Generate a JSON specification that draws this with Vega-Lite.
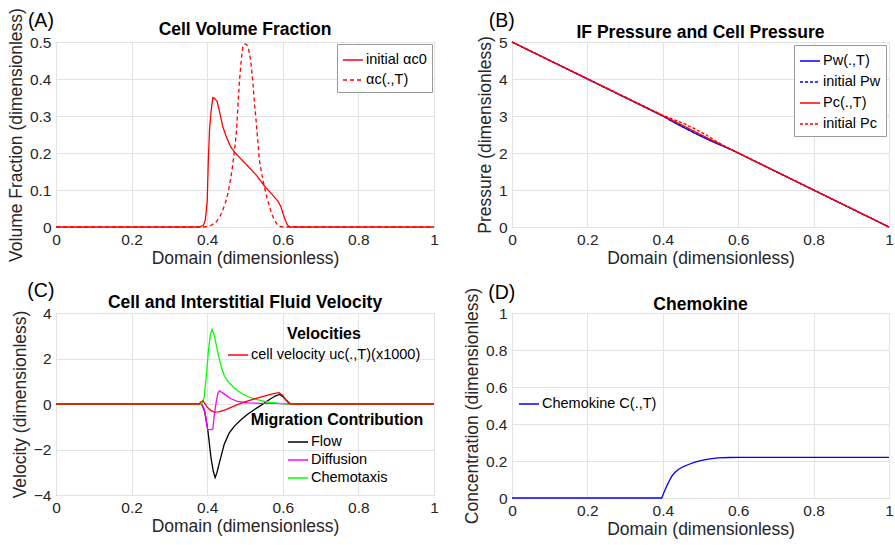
{
  "$schema": "https://vega.github.io/schema/vega-lite/v6.json",
  "background": "white",
  "padding": {"left": 6, "top": 7, "right": 0, "bottom": 0},
  "config": {
    "font": "Liberation Sans",
    "view": {"stroke": "#9a9a9a", "strokeWidth": 1},
    "axis": {
      "domain": false, "ticks": false, "grid": true, "gridColor": "#e3e3e3",
      "labelColor": "#262626", "titleColor": "#262626", "labelFontSize": 15.5, "titleFontSize": 17.5,
      "titleFontWeight": "normal", "labelFlush": false, "labelOverlap": false, "labelPadding": 5
    },
    "axisX": {"titlePadding": 2},
    "axisY": {"titlePadding": 4},
    "title": {"fontSize": 17.5, "fontWeight": "bold", "color": "#000000", "offset": -31, "frame": "group"},
    "legend": {"labelFontSize": 14.5, "labelColor": "#000000", "symbolType": "stroke", "symbolSize": 400, "symbolStrokeWidth": 1.5, "labelOffset": 2}
  },
  "resolve": {
    "scale": {"x": "independent", "y": "independent", "color": "independent", "strokeDash": "independent", "stroke": "independent"},
    "axis": {"x": "independent", "y": "independent"},
    "legend": {"color": "independent", "strokeDash": "independent", "stroke": "independent"}
  },
  "datasets": {
    "a": [
      {"x": 0, "y": 0, "s": "initial αc0"}, {"x": 0.38, "y": 0, "s": "initial αc0"}, {"x": 0.39, "y": 0.005, "s": "initial αc0"}, {"x": 0.395, "y": 0.018, "s": "initial αc0"}, {"x": 0.4, "y": 0.07, "s": "initial αc0"}, {"x": 0.403, "y": 0.18, "s": "initial αc0"}, {"x": 0.406, "y": 0.26, "s": "initial αc0"}, {"x": 0.41, "y": 0.31, "s": "initial αc0"}, {"x": 0.415, "y": 0.35, "s": "initial αc0"}, {"x": 0.42, "y": 0.347, "s": "initial αc0"}, {"x": 0.426, "y": 0.34, "s": "initial αc0"}, {"x": 0.433, "y": 0.31, "s": "initial αc0"}, {"x": 0.441, "y": 0.272, "s": "initial αc0"}, {"x": 0.45, "y": 0.245, "s": "initial αc0"}, {"x": 0.463, "y": 0.215, "s": "initial αc0"}, {"x": 0.472, "y": 0.203, "s": "initial αc0"}, {"x": 0.49, "y": 0.183, "s": "initial αc0"}, {"x": 0.51, "y": 0.162, "s": "initial αc0"}, {"x": 0.53, "y": 0.14, "s": "initial αc0"}, {"x": 0.552, "y": 0.11, "s": "initial αc0"}, {"x": 0.57, "y": 0.09, "s": "initial αc0"}, {"x": 0.587, "y": 0.07, "s": "initial αc0"}, {"x": 0.595, "y": 0.055, "s": "initial αc0"}, {"x": 0.6, "y": 0.038, "s": "initial αc0"}, {"x": 0.606, "y": 0.02, "s": "initial αc0"}, {"x": 0.612, "y": 0.006, "s": "initial αc0"}, {"x": 0.618, "y": 0, "s": "initial αc0"}, {"x": 1, "y": 0, "s": "initial αc0"},
      {"x": 0, "y": 0, "s": "αc(.,T)"}, {"x": 0.39, "y": 0, "s": "αc(.,T)"}, {"x": 0.4, "y": 0.001, "s": "αc(.,T)"}, {"x": 0.41, "y": 0.004, "s": "αc(.,T)"}, {"x": 0.424, "y": 0.014, "s": "αc(.,T)"}, {"x": 0.433, "y": 0.027, "s": "αc(.,T)"}, {"x": 0.441, "y": 0.045, "s": "αc(.,T)"}, {"x": 0.448, "y": 0.065, "s": "αc(.,T)"}, {"x": 0.455, "y": 0.091, "s": "αc(.,T)"}, {"x": 0.462, "y": 0.13, "s": "αc(.,T)"}, {"x": 0.468, "y": 0.172, "s": "αc(.,T)"}, {"x": 0.473, "y": 0.215, "s": "αc(.,T)"}, {"x": 0.477, "y": 0.254, "s": "αc(.,T)"}, {"x": 0.481, "y": 0.32, "s": "αc(.,T)"}, {"x": 0.485, "y": 0.39, "s": "αc(.,T)"}, {"x": 0.49, "y": 0.45, "s": "αc(.,T)"}, {"x": 0.494, "y": 0.485, "s": "αc(.,T)"}, {"x": 0.5, "y": 0.495, "s": "αc(.,T)"}, {"x": 0.505, "y": 0.492, "s": "αc(.,T)"}, {"x": 0.51, "y": 0.478, "s": "αc(.,T)"}, {"x": 0.515, "y": 0.45, "s": "αc(.,T)"}, {"x": 0.521, "y": 0.39, "s": "αc(.,T)"}, {"x": 0.525, "y": 0.335, "s": "αc(.,T)"}, {"x": 0.53, "y": 0.281, "s": "αc(.,T)"}, {"x": 0.534, "y": 0.23, "s": "αc(.,T)"}, {"x": 0.538, "y": 0.181, "s": "αc(.,T)"}, {"x": 0.545, "y": 0.14, "s": "αc(.,T)"}, {"x": 0.552, "y": 0.105, "s": "αc(.,T)"}, {"x": 0.558, "y": 0.08, "s": "αc(.,T)"}, {"x": 0.565, "y": 0.054, "s": "αc(.,T)"}, {"x": 0.572, "y": 0.033, "s": "αc(.,T)"}, {"x": 0.578, "y": 0.018, "s": "αc(.,T)"}, {"x": 0.585, "y": 0.007, "s": "αc(.,T)"}, {"x": 0.591, "y": 0.002, "s": "αc(.,T)"}, {"x": 0.6, "y": 0, "s": "αc(.,T)"}, {"x": 1, "y": 0, "s": "αc(.,T)"}
    ],
    "b": [
      {"x": 0, "y": 5, "s": "Pw(.,T)"}, {"x": 0.4, "y": 3.0, "s": "Pw(.,T)"}, {"x": 0.42, "y": 2.88, "s": "Pw(.,T)"}, {"x": 0.45, "y": 2.72, "s": "Pw(.,T)"}, {"x": 0.48, "y": 2.56, "s": "Pw(.,T)"}, {"x": 0.51, "y": 2.41, "s": "Pw(.,T)"}, {"x": 0.54, "y": 2.27, "s": "Pw(.,T)"}, {"x": 0.57, "y": 2.14, "s": "Pw(.,T)"}, {"x": 0.59, "y": 2.05, "s": "Pw(.,T)"}, {"x": 1, "y": 0, "s": "Pw(.,T)"},
      {"x": 0, "y": 5, "s": "initial Pw"}, {"x": 0.4, "y": 3.0, "s": "initial Pw"}, {"x": 0.43, "y": 2.83, "s": "initial Pw"}, {"x": 0.46, "y": 2.67, "s": "initial Pw"}, {"x": 0.5, "y": 2.47, "s": "initial Pw"}, {"x": 0.54, "y": 2.28, "s": "initial Pw"}, {"x": 0.58, "y": 2.1, "s": "initial Pw"}, {"x": 0.6, "y": 2.0, "s": "initial Pw"}, {"x": 1, "y": 0, "s": "initial Pw"},
      {"x": 0, "y": 5, "s": "Pc(.,T)"}, {"x": 0.4, "y": 3.01, "s": "Pc(.,T)"}, {"x": 0.45, "y": 2.76, "s": "Pc(.,T)"}, {"x": 0.5, "y": 2.5, "s": "Pc(.,T)"}, {"x": 0.55, "y": 2.25, "s": "Pc(.,T)"}, {"x": 0.6, "y": 2.0, "s": "Pc(.,T)"}, {"x": 1, "y": 0, "s": "Pc(.,T)"},
      {"x": 0, "y": 5, "s": "initial Pc"}, {"x": 0.4, "y": 3.02, "s": "initial Pc"}, {"x": 0.42, "y": 2.94, "s": "initial Pc"}, {"x": 0.44, "y": 2.86, "s": "initial Pc"}, {"x": 0.46, "y": 2.78, "s": "initial Pc"}, {"x": 0.47, "y": 2.72, "s": "initial Pc"}, {"x": 0.48, "y": 2.68, "s": "initial Pc"}, {"x": 0.5, "y": 2.57, "s": "initial Pc"}, {"x": 0.52, "y": 2.46, "s": "initial Pc"}, {"x": 0.54, "y": 2.33, "s": "initial Pc"}, {"x": 0.56, "y": 2.21, "s": "initial Pc"}, {"x": 0.6, "y": 2.0, "s": "initial Pc"}, {"x": 1, "y": 0, "s": "initial Pc"}
    ],
    "cmig": [
      {"x": 0, "y": 0, "s": "Flow"}, {"x": 0.385, "y": 0, "s": "Flow"}, {"x": 0.393, "y": -0.31, "s": "Flow"}, {"x": 0.402, "y": -1.19, "s": "Flow"}, {"x": 0.41, "y": -2.36, "s": "Flow"}, {"x": 0.416, "y": -2.95, "s": "Flow"}, {"x": 0.421, "y": -3.24, "s": "Flow"}, {"x": 0.426, "y": -3.0, "s": "Flow"}, {"x": 0.432, "y": -2.6, "s": "Flow"}, {"x": 0.445, "y": -1.77, "s": "Flow"}, {"x": 0.458, "y": -1.28, "s": "Flow"}, {"x": 0.472, "y": -0.97, "s": "Flow"}, {"x": 0.49, "y": -0.68, "s": "Flow"}, {"x": 0.507, "y": -0.45, "s": "Flow"}, {"x": 0.525, "y": -0.24, "s": "Flow"}, {"x": 0.542, "y": -0.06, "s": "Flow"}, {"x": 0.556, "y": 0.1, "s": "Flow"}, {"x": 0.569, "y": 0.24, "s": "Flow"}, {"x": 0.58, "y": 0.35, "s": "Flow"}, {"x": 0.591, "y": 0.42, "s": "Flow"}, {"x": 0.6, "y": 0.33, "s": "Flow"}, {"x": 0.61, "y": 0.15, "s": "Flow"}, {"x": 0.618, "y": 0.03, "s": "Flow"}, {"x": 0.625, "y": 0, "s": "Flow"}, {"x": 1, "y": 0, "s": "Flow"},
      {"x": 0, "y": 0, "s": "Diffusion"}, {"x": 0.385, "y": 0, "s": "Diffusion"}, {"x": 0.391, "y": -0.17, "s": "Diffusion"}, {"x": 0.397, "y": -0.61, "s": "Diffusion"}, {"x": 0.401, "y": -1.12, "s": "Diffusion"}, {"x": 0.41, "y": -1.13, "s": "Diffusion"}, {"x": 0.415, "y": -1.1, "s": "Diffusion"}, {"x": 0.419, "y": -0.45, "s": "Diffusion"}, {"x": 0.424, "y": 0.1, "s": "Diffusion"}, {"x": 0.428, "y": 0.45, "s": "Diffusion"}, {"x": 0.432, "y": 0.58, "s": "Diffusion"}, {"x": 0.44, "y": 0.5, "s": "Diffusion"}, {"x": 0.45, "y": 0.38, "s": "Diffusion"}, {"x": 0.463, "y": 0.23, "s": "Diffusion"}, {"x": 0.48, "y": 0.12, "s": "Diffusion"}, {"x": 0.507, "y": 0.05, "s": "Diffusion"}, {"x": 0.54, "y": 0.03, "s": "Diffusion"}, {"x": 0.58, "y": 0.03, "s": "Diffusion"}, {"x": 0.61, "y": 0.01, "s": "Diffusion"}, {"x": 0.62, "y": 0, "s": "Diffusion"}, {"x": 1, "y": 0, "s": "Diffusion"},
      {"x": 0, "y": 0, "s": "Chemotaxis"}, {"x": 0.385, "y": 0, "s": "Chemotaxis"}, {"x": 0.392, "y": 0.3, "s": "Chemotaxis"}, {"x": 0.397, "y": 1.1, "s": "Chemotaxis"}, {"x": 0.403, "y": 2.3, "s": "Chemotaxis"}, {"x": 0.408, "y": 3.0, "s": "Chemotaxis"}, {"x": 0.413, "y": 3.28, "s": "Chemotaxis"}, {"x": 0.418, "y": 3.05, "s": "Chemotaxis"}, {"x": 0.424, "y": 2.6, "s": "Chemotaxis"}, {"x": 0.43, "y": 2.1, "s": "Chemotaxis"}, {"x": 0.437, "y": 1.65, "s": "Chemotaxis"}, {"x": 0.445, "y": 1.25, "s": "Chemotaxis"}, {"x": 0.455, "y": 0.98, "s": "Chemotaxis"}, {"x": 0.472, "y": 0.7, "s": "Chemotaxis"}, {"x": 0.49, "y": 0.47, "s": "Chemotaxis"}, {"x": 0.507, "y": 0.33, "s": "Chemotaxis"}, {"x": 0.53, "y": 0.2, "s": "Chemotaxis"}, {"x": 0.56, "y": 0.08, "s": "Chemotaxis"}, {"x": 0.59, "y": 0.03, "s": "Chemotaxis"}, {"x": 0.62, "y": 0, "s": "Chemotaxis"}, {"x": 1, "y": 0, "s": "Chemotaxis"}
    ],
    "cvel": [
      {"x": 0, "y": 0, "s": "cell velocity uc(.,T)(x1000)"}, {"x": 0.378, "y": 0, "s": "cell velocity uc(.,T)(x1000)"}, {"x": 0.384, "y": 0.1, "s": "cell velocity uc(.,T)(x1000)"}, {"x": 0.389, "y": 0.14, "s": "cell velocity uc(.,T)(x1000)"}, {"x": 0.394, "y": 0.02, "s": "cell velocity uc(.,T)(x1000)"}, {"x": 0.4, "y": -0.14, "s": "cell velocity uc(.,T)(x1000)"}, {"x": 0.41, "y": -0.29, "s": "cell velocity uc(.,T)(x1000)"}, {"x": 0.419, "y": -0.36, "s": "cell velocity uc(.,T)(x1000)"}, {"x": 0.43, "y": -0.35, "s": "cell velocity uc(.,T)(x1000)"}, {"x": 0.446, "y": -0.27, "s": "cell velocity uc(.,T)(x1000)"}, {"x": 0.463, "y": -0.15, "s": "cell velocity uc(.,T)(x1000)"}, {"x": 0.48, "y": -0.03, "s": "cell velocity uc(.,T)(x1000)"}, {"x": 0.5, "y": 0.09, "s": "cell velocity uc(.,T)(x1000)"}, {"x": 0.525, "y": 0.22, "s": "cell velocity uc(.,T)(x1000)"}, {"x": 0.551, "y": 0.35, "s": "cell velocity uc(.,T)(x1000)"}, {"x": 0.575, "y": 0.46, "s": "cell velocity uc(.,T)(x1000)"}, {"x": 0.59, "y": 0.5, "s": "cell velocity uc(.,T)(x1000)"}, {"x": 0.6, "y": 0.38, "s": "cell velocity uc(.,T)(x1000)"}, {"x": 0.609, "y": 0.16, "s": "cell velocity uc(.,T)(x1000)"}, {"x": 0.617, "y": 0.02, "s": "cell velocity uc(.,T)(x1000)"}, {"x": 0.622, "y": 0, "s": "cell velocity uc(.,T)(x1000)"}, {"x": 1, "y": 0, "s": "cell velocity uc(.,T)(x1000)"}
    ],
    "d": [
      {"x": 0, "y": 0, "s": "Chemokine C(.,T)"}, {"x": 0.397, "y": 0, "s": "Chemokine C(.,T)"}, {"x": 0.403, "y": 0.03, "s": "Chemokine C(.,T)"}, {"x": 0.41, "y": 0.063, "s": "Chemokine C(.,T)"}, {"x": 0.417, "y": 0.092, "s": "Chemokine C(.,T)"}, {"x": 0.424, "y": 0.118, "s": "Chemokine C(.,T)"}, {"x": 0.432, "y": 0.138, "s": "Chemokine C(.,T)"}, {"x": 0.441, "y": 0.154, "s": "Chemokine C(.,T)"}, {"x": 0.455, "y": 0.17, "s": "Chemokine C(.,T)"}, {"x": 0.468, "y": 0.181, "s": "Chemokine C(.,T)"}, {"x": 0.485, "y": 0.194, "s": "Chemokine C(.,T)"}, {"x": 0.503, "y": 0.204, "s": "Chemokine C(.,T)"}, {"x": 0.525, "y": 0.212, "s": "Chemokine C(.,T)"}, {"x": 0.547, "y": 0.217, "s": "Chemokine C(.,T)"}, {"x": 0.575, "y": 0.219, "s": "Chemokine C(.,T)"}, {"x": 0.6, "y": 0.22, "s": "Chemokine C(.,T)"}, {"x": 1, "y": 0.22, "s": "Chemokine C(.,T)"}
    ],
    "labels": [
      {"p": "A", "t": "(A)"}, {"p": "B", "t": "(B)"}, {"p": "C", "t": "(C)"}, {"p": "D", "t": "(D)"}
    ]
  },
  "columns": 2,
  "spacing": {"column": 23, "row": 12},
  "concat": [
    {
      "width": 378, "height": 185,
      "title": "Cell Volume Fraction",
      "layer": [
        {
          "data": {"name": "a"},
          "mark": {"type": "line", "strokeWidth": 1.3},
          "encoding": {
            "x": {"field": "x", "type": "quantitative", "scale": {"domain": [0, 1]}, "axis": {"title": "Domain (dimensionless)", "values": [0, 0.2, 0.4, 0.6, 0.8, 1], "format": ".1~f"}},
            "y": {"field": "y", "type": "quantitative", "scale": {"domain": [0, 0.5]}, "axis": {"title": "Volume Fraction (dimensionless)", "values": [0, 0.1, 0.2, 0.3, 0.4, 0.5], "format": ".1~f"}},
            "color": {"field": "s", "type": "nominal", "scale": {"domain": ["initial αc0", "αc(.,T)"], "range": ["#ff0000", "#ff0000"]}, "legend": {"title": null, "orient": "top-right", "offset": 2, "padding": 5, "strokeColor": "#9a9a9a", "fillColor": "white", "rowPadding": 2}},
            "strokeDash": {"field": "s", "type": "nominal", "scale": {"domain": ["initial αc0", "αc(.,T)"], "range": [[1, 0], [4, 3]]}, "legend": {"title": null, "orient": "top-right", "offset": 2, "padding": 5, "strokeColor": "#9a9a9a", "fillColor": "white", "rowPadding": 2}}
          }
        },
        {
          "data": {"name": "labels"},
          "transform": [{"filter": "datum.p == 'A'"}],
          "mark": {"type": "text", "fontSize": 19.5, "color": "#000000"},
          "encoding": {
            "x": {"datum": -0.04, "type": "quantitative", "axis": {"title": "Domain (dimensionless)", "values": [0, 0.2, 0.4, 0.6, 0.8, 1], "format": ".1~f"}},
            "y": {"datum": 0.557, "type": "quantitative", "axis": {"title": "Volume Fraction (dimensionless)", "values": [0, 0.1, 0.2, 0.3, 0.4, 0.5], "format": ".1~f"}},
            "text": {"field": "t"}
          }
        }
      ]
    },
    {
      "width": 377, "height": 185,
      "title": "IF Pressure and Cell Pressure",
      "layer": [
        {
          "data": {"name": "b"},
          "mark": {"type": "line", "strokeWidth": 1.3},
          "encoding": {
            "x": {"field": "x", "type": "quantitative", "scale": {"domain": [0, 1]}, "axis": {"title": "Domain (dimensionless)", "values": [0, 0.2, 0.4, 0.6, 0.8, 1], "format": ".1~f"}},
            "y": {"field": "y", "type": "quantitative", "scale": {"domain": [0, 5]}, "axis": {"title": "Pressure (dimensionless)", "values": [0, 1, 2, 3, 4, 5], "format": "d"}},
            "color": {"field": "s", "type": "nominal", "scale": {"domain": ["Pw(.,T)", "initial Pw", "Pc(.,T)", "initial Pc"], "range": ["#0000ff", "#0000ff", "#ff0000", "#ff0000"]}, "legend": {"title": null, "orient": "top-right", "offset": 3, "padding": 5, "strokeColor": "#9a9a9a", "fillColor": "white", "rowPadding": 3}},
            "strokeDash": {"field": "s", "type": "nominal", "scale": {"domain": ["Pw(.,T)", "initial Pw", "Pc(.,T)", "initial Pc"], "range": [[1, 0], [3, 2], [1, 0], [3, 2]]}, "legend": {"title": null, "orient": "top-right", "offset": 3, "padding": 5, "strokeColor": "#9a9a9a", "fillColor": "white", "rowPadding": 3}}
          }
        },
        {
          "data": {"name": "labels"},
          "transform": [{"filter": "datum.p == 'B'"}],
          "mark": {"type": "text", "fontSize": 19.5, "color": "#000000"},
          "encoding": {
            "x": {"datum": -0.027, "type": "quantitative", "axis": {"title": "Domain (dimensionless)", "values": [0, 0.2, 0.4, 0.6, 0.8, 1], "format": ".1~f"}},
            "y": {"datum": 5.57, "type": "quantitative", "axis": {"title": "Pressure (dimensionless)", "values": [0, 1, 2, 3, 4, 5], "format": "d"}},
            "text": {"field": "t"}
          }
        }
      ]
    },
    {
      "width": 378, "height": 182,
      "title": "Cell and Interstitial Fluid Velocity",
      "layer": [
        {
          "data": {"name": "cmig"},
          "mark": {"type": "line", "strokeWidth": 1.3},
          "encoding": {
            "x": {"field": "x", "type": "quantitative", "scale": {"domain": [0, 1]}, "axis": {"title": "Domain (dimensionless)", "values": [0, 0.2, 0.4, 0.6, 0.8, 1], "format": ".1~f"}},
            "y": {"field": "y", "type": "quantitative", "scale": {"domain": [-4, 4]}, "axis": {"title": "Velocity (dimensionless)", "values": [-4, -2, 0, 2, 4], "format": "d"}},
            "color": {"field": "s", "type": "nominal", "scale": {"domain": ["Flow", "Diffusion", "Chemotaxis"], "range": ["#000000", "#ff00ff", "#00ff00"]}, "legend": {"title": "Migration Contribution", "titleFontSize": 16, "titleFontWeight": "bold", "titleColor": "#000000", "titleAnchor": "middle", "titlePadding": 3, "orient": "bottom-right", "offset": 10, "rowPadding": 0, "symbolSize": 400}}
          }
        },
        {
          "data": {"name": "cvel"},
          "mark": {"type": "line", "strokeWidth": 1.3},
          "encoding": {
            "x": {"field": "x", "type": "quantitative"},
            "y": {"field": "y", "type": "quantitative"},
            "stroke": {"field": "s", "type": "nominal", "scale": {"domain": ["cell velocity uc(.,T)(x1000)"], "range": ["#ff0000"]}, "legend": {"title": "Velocities", "titleFontSize": 16, "titleFontWeight": "bold", "titleColor": "#000000", "titleAnchor": "middle", "titlePadding": 2, "orient": "top-right", "offset": 13, "labelLimit": 300}}
          }
        },
        {
          "data": {"name": "labels"},
          "transform": [{"filter": "datum.p == 'C'"}],
          "mark": {"type": "text", "fontSize": 19.5, "color": "#000000"},
          "encoding": {
            "x": {"datum": -0.04, "type": "quantitative", "axis": {"title": "Domain (dimensionless)", "values": [0, 0.2, 0.4, 0.6, 0.8, 1], "format": ".1~f"}},
            "y": {"datum": 4.97, "type": "quantitative", "axis": {"title": "Velocity (dimensionless)", "values": [-4, -2, 0, 2, 4], "format": "d"}},
            "text": {"field": "t"}
          }
        }
      ]
    },
    {
      "width": 377, "height": 185,
      "title": "Chemokine",
      "layer": [
        {
          "data": {"name": "d"},
          "mark": {"type": "line", "strokeWidth": 1.3},
          "encoding": {
            "x": {"field": "x", "type": "quantitative", "scale": {"domain": [0, 1]}, "axis": {"title": "Domain (dimensionless)", "values": [0, 0.2, 0.4, 0.6, 0.8, 1], "format": ".1~f"}},
            "y": {"field": "y", "type": "quantitative", "scale": {"domain": [0, 1]}, "axis": {"title": "Concentration (dimensionless)", "values": [0, 0.2, 0.4, 0.6, 0.8, 1], "format": ".1~f"}},
            "color": {"field": "s", "type": "nominal", "scale": {"domain": ["Chemokine C(.,T)"], "range": ["#0000ff"]}, "legend": {"title": null, "orient": "none", "legendX": 6, "legendY": 80}}
          }
        },
        {
          "data": {"name": "labels"},
          "transform": [{"filter": "datum.p == 'D'"}],
          "mark": {"type": "text", "fontSize": 19.5, "color": "#000000"},
          "encoding": {
            "x": {"datum": -0.027, "type": "quantitative", "axis": {"title": "Domain (dimensionless)", "values": [0, 0.2, 0.4, 0.6, 0.8, 1], "format": ".1~f"}},
            "y": {"datum": 1.11, "type": "quantitative", "axis": {"title": "Concentration (dimensionless)", "values": [0, 0.2, 0.4, 0.6, 0.8, 1], "format": ".1~f"}},
            "text": {"field": "t"}
          }
        }
      ]
    }
  ]
}
